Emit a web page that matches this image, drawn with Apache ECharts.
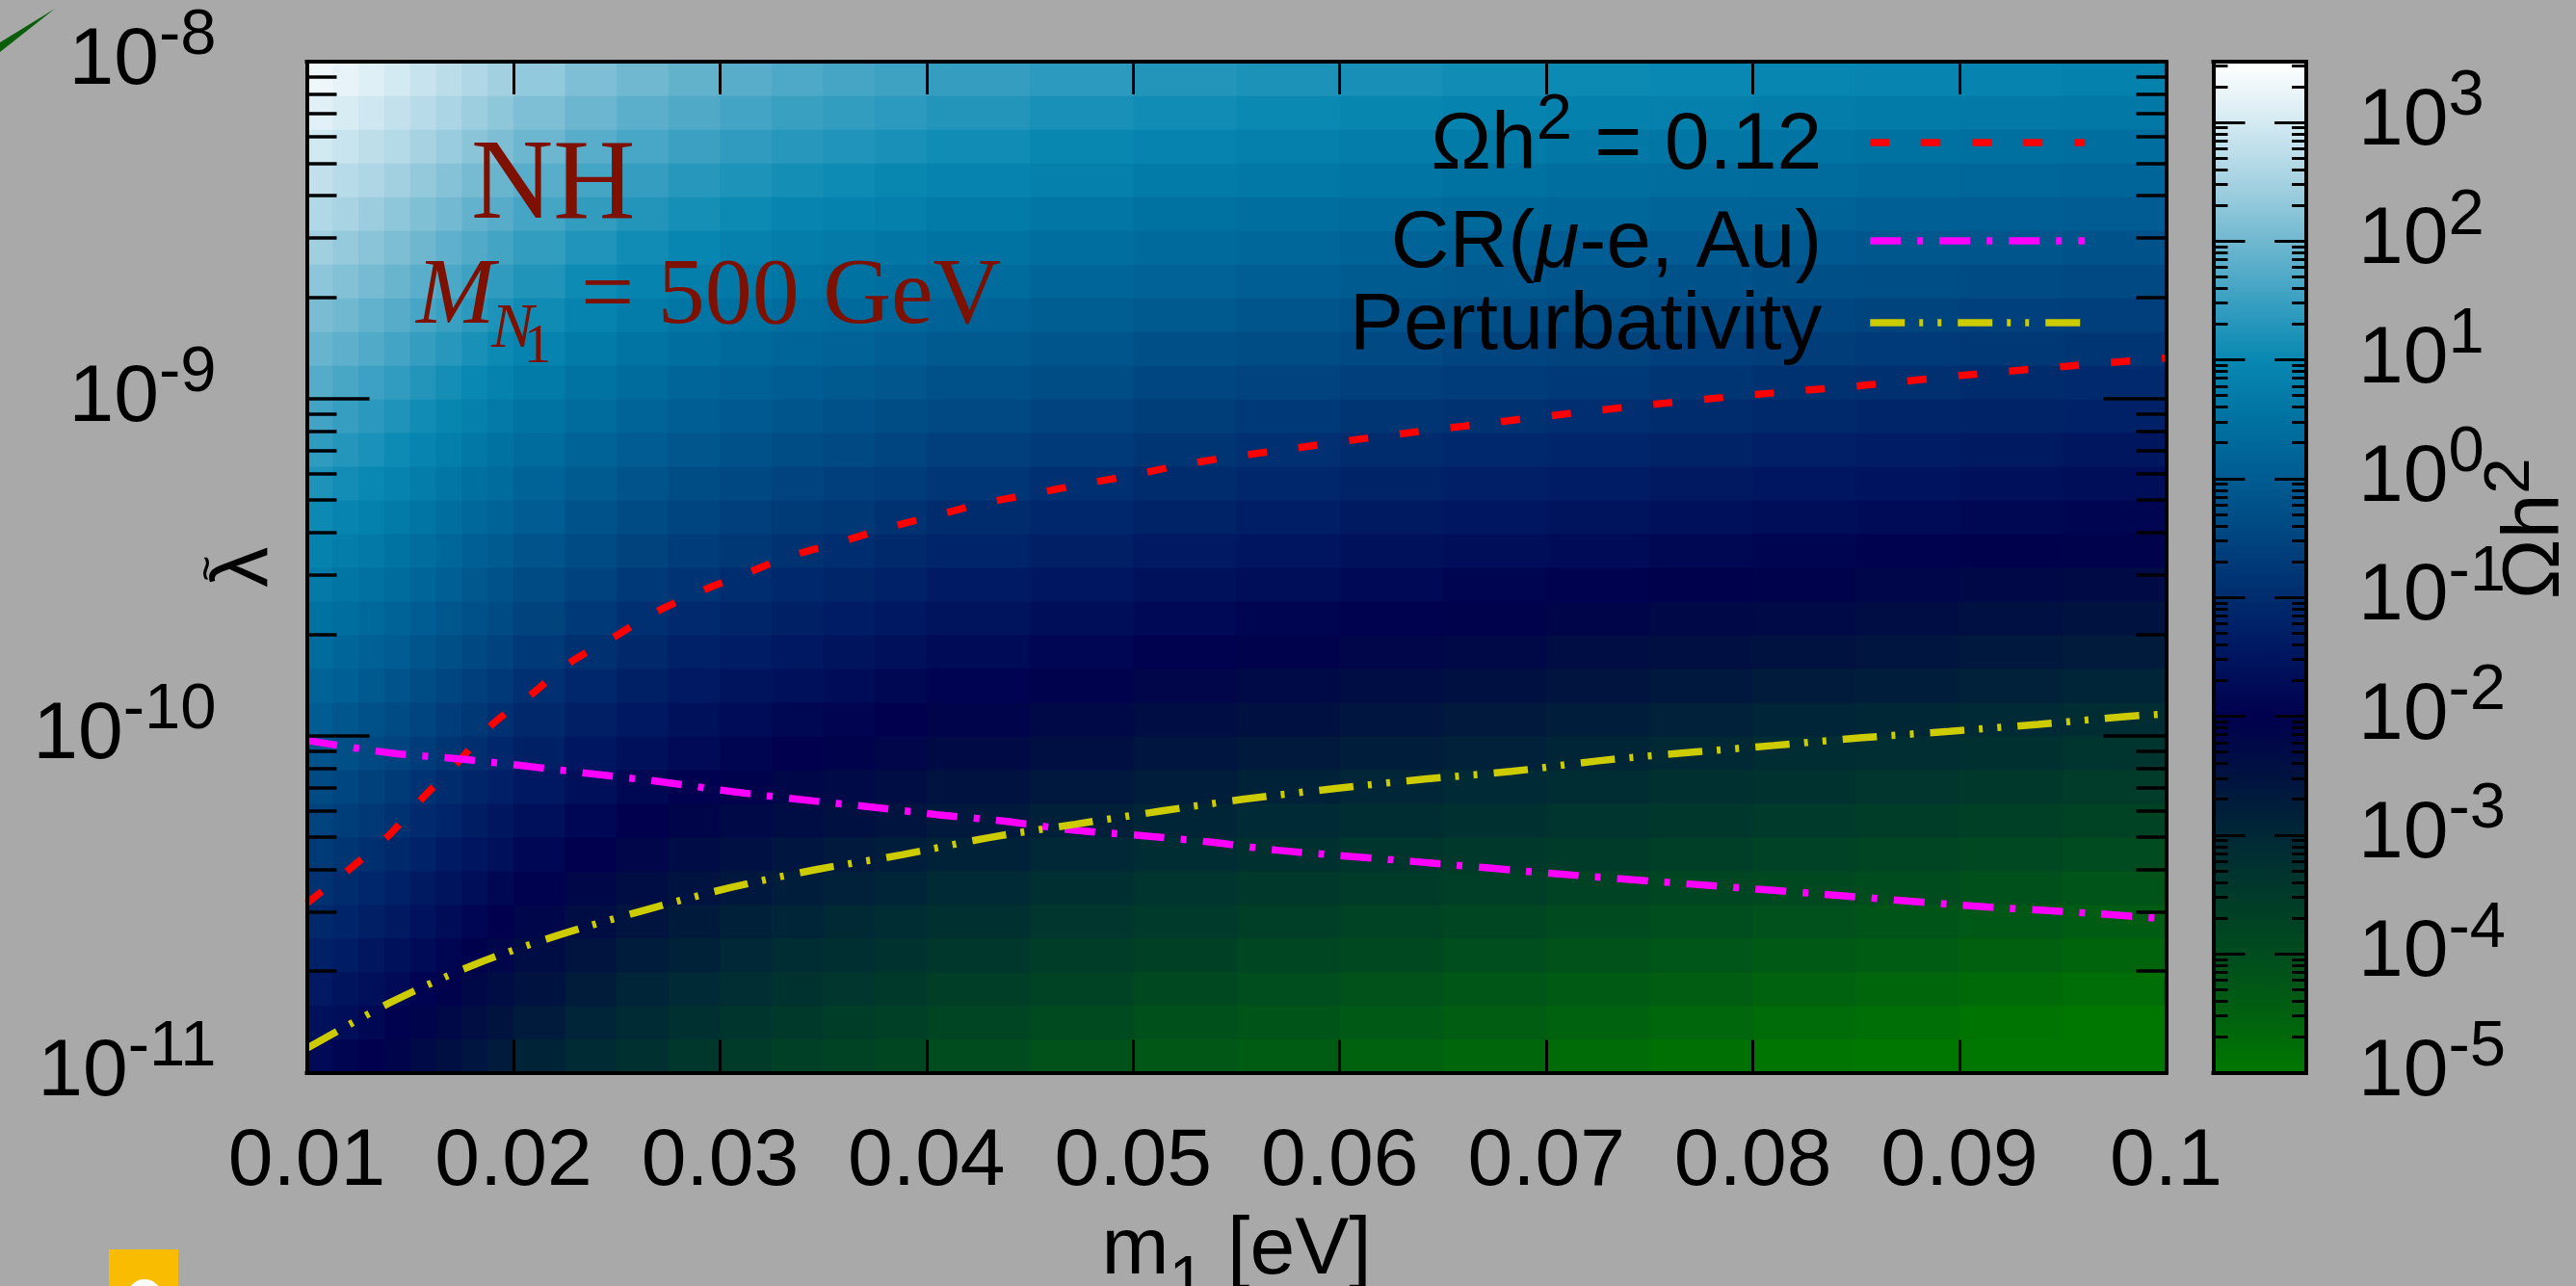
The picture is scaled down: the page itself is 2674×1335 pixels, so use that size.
<!DOCTYPE html>
<html>
<head>
<meta charset="utf-8">
<title>Omega h^2 — NH, M_N1 = 500 GeV</title>
<script src="https://cdn.jsdelivr.net/npm/echarts@6.0.0/dist/echarts.min.js"></script>
<style>
html,body{margin:0;padding:0;background:#a9a9a9;overflow:hidden;}
#chart{width:2674px;height:1335px;}
</style>
</head>
<body>
<div id="chart"></div>
<script>
// ================= data =================
// map cells: column edges in m1 [eV], row edges in log10(lambda~)
const colEdges = [0.01,0.01125,0.0125,0.01375,0.015,0.01625,0.0175,0.01875,0.02,0.0225,0.025,0.0275,0.03,0.0325,0.035,0.0375,0.04,0.045,0.05,0.055,0.06,0.065,0.07,0.075,0.08,0.085,0.09,0.095,0.1];
const rowEdges = [-11,-10.9,-10.8,-10.7,-10.6,-10.5,-10.4,-10.3,-10.2,-10.1,-10,-9.9,-9.8,-9.7,-9.6,-9.5,-9.4,-9.3,-9.2,-9.1,-9,-8.9,-8.8,-8.7,-8.6,-8.5,-8.4,-8.3,-8.2,-8.1,-8];
// log10(Omega h^2) per cell: one array per column, bottom row first
const omegaCols = [
[-1.76,-1.59,-1.41,-1.24,-1.06,-0.89,-0.71,-0.54,-0.36,-0.19,-0.01,0.16,0.34,0.51,0.69,0.87,1.04,1.22,1.39,1.57,1.74,1.92,2.09,2.27,2.44,2.62,2.79,2.97,3.14,3.32],
[-1.87,-1.70,-1.52,-1.35,-1.17,-1.00,-0.82,-0.64,-0.47,-0.29,-0.12,0.06,0.23,0.41,0.59,0.76,0.94,1.11,1.29,1.46,1.64,1.82,1.99,2.17,2.34,2.52,2.69,2.87,3.05,3.22],
[-1.99,-1.82,-1.64,-1.46,-1.29,-1.11,-0.94,-0.76,-0.58,-0.41,-0.23,-0.05,0.12,0.30,0.47,0.65,0.83,1.00,1.18,1.35,1.53,1.71,1.88,2.06,2.24,2.41,2.59,2.76,2.94,3.12],
[-2.12,-1.95,-1.77,-1.59,-1.42,-1.24,-1.06,-0.89,-0.71,-0.53,-0.36,-0.18,0.00,0.17,0.35,0.53,0.70,0.88,1.06,1.23,1.41,1.59,1.76,1.94,2.12,2.29,2.47,2.65,2.82,3.00],
[-2.28,-2.10,-1.92,-1.75,-1.57,-1.39,-1.21,-1.04,-0.86,-0.68,-0.51,-0.33,-0.15,0.03,0.20,0.38,0.56,0.74,0.91,1.09,1.27,1.44,1.62,1.80,1.98,2.15,2.33,2.51,2.68,2.86],
[-2.42,-2.24,-2.07,-1.89,-1.71,-1.53,-1.36,-1.18,-1.00,-0.82,-0.65,-0.47,-0.29,-0.11,0.07,0.24,0.42,0.60,0.78,0.95,1.13,1.31,1.49,1.67,1.84,2.02,2.20,2.38,2.55,2.73],
[-2.57,-2.39,-2.21,-2.03,-1.86,-1.68,-1.50,-1.32,-1.14,-0.97,-0.79,-0.61,-0.43,-0.25,-0.08,0.10,0.28,0.46,0.64,0.81,0.99,1.17,1.35,1.53,1.71,1.88,2.06,2.24,2.42,2.60],
[-2.71,-2.53,-2.35,-2.17,-1.99,-1.81,-1.63,-1.46,-1.28,-1.10,-0.92,-0.74,-0.56,-0.38,-0.21,-0.03,0.15,0.33,0.51,0.69,0.87,1.04,1.22,1.40,1.58,1.76,1.94,2.12,2.29,2.47],
[-2.88,-2.70,-2.52,-2.34,-2.16,-1.98,-1.80,-1.62,-1.44,-1.26,-1.09,-0.91,-0.73,-0.55,-0.37,-0.19,-0.01,0.17,0.35,0.53,0.71,0.89,1.07,1.25,1.43,1.60,1.78,1.96,2.14,2.32],
[-3.09,-2.91,-2.73,-2.55,-2.37,-2.19,-2.01,-1.83,-1.65,-1.47,-1.29,-1.11,-0.93,-0.75,-0.56,-0.38,-0.20,-0.02,0.16,0.34,0.52,0.70,0.88,1.06,1.24,1.42,1.60,1.78,1.96,2.14],
[-3.26,-3.08,-2.90,-2.72,-2.54,-2.36,-2.18,-1.99,-1.81,-1.63,-1.45,-1.27,-1.09,-0.91,-0.73,-0.55,-0.36,-0.18,0.00,0.18,0.36,0.54,0.72,0.90,1.09,1.27,1.45,1.63,1.81,1.99],
[-3.41,-3.23,-3.05,-2.87,-2.69,-2.50,-2.32,-2.14,-1.96,-1.77,-1.59,-1.41,-1.23,-1.05,-0.86,-0.68,-0.50,-0.32,-0.13,0.05,0.23,0.41,0.59,0.78,0.96,1.14,1.32,1.51,1.69,1.87],
[-3.54,-3.36,-3.18,-2.99,-2.81,-2.63,-2.44,-2.26,-2.08,-1.89,-1.71,-1.53,-1.34,-1.16,-0.98,-0.79,-0.61,-0.43,-0.25,-0.06,0.12,0.30,0.49,0.67,0.85,1.04,1.22,1.40,1.59,1.77],
[-3.66,-3.48,-3.29,-3.11,-2.92,-2.74,-2.56,-2.37,-2.19,-2.00,-1.82,-1.63,-1.45,-1.27,-1.08,-0.90,-0.71,-0.53,-0.35,-0.16,0.02,0.21,0.39,0.58,0.76,0.94,1.13,1.31,1.50,1.68],
[-3.76,-3.57,-3.39,-3.20,-3.02,-2.83,-2.65,-2.46,-2.28,-2.09,-1.91,-1.72,-1.53,-1.35,-1.16,-0.98,-0.79,-0.61,-0.42,-0.24,-0.05,0.13,0.32,0.50,0.69,0.87,1.06,1.24,1.43,1.61],
[-3.86,-3.67,-3.48,-3.30,-3.11,-2.92,-2.74,-2.55,-2.37,-2.18,-1.99,-1.81,-1.62,-1.44,-1.25,-1.06,-0.88,-0.69,-0.51,-0.32,-0.13,0.05,0.24,0.43,0.61,0.80,0.98,1.17,1.36,1.54],
[-3.99,-3.80,-3.61,-3.42,-3.24,-3.05,-2.86,-2.67,-2.49,-2.30,-2.11,-1.92,-1.74,-1.55,-1.36,-1.17,-0.99,-0.80,-0.61,-0.42,-0.24,-0.05,0.14,0.33,0.52,0.70,0.89,1.08,1.27,1.45],
[-4.14,-3.95,-3.76,-3.57,-3.38,-3.19,-3.00,-2.81,-2.62,-2.43,-2.24,-2.05,-1.86,-1.67,-1.48,-1.29,-1.10,-0.91,-0.72,-0.53,-0.34,-0.15,0.04,0.22,0.41,0.60,0.79,0.98,1.17,1.36],
[-4.28,-4.09,-3.90,-3.70,-3.51,-3.32,-3.13,-2.94,-2.75,-2.56,-2.36,-2.17,-1.98,-1.79,-1.60,-1.41,-1.22,-1.02,-0.83,-0.64,-0.45,-0.26,-0.07,0.13,0.32,0.51,0.70,0.89,1.08,1.27],
[-4.40,-4.21,-4.02,-3.82,-3.63,-3.44,-3.24,-3.05,-2.86,-2.66,-2.47,-2.27,-2.08,-1.89,-1.69,-1.50,-1.31,-1.11,-0.92,-0.73,-0.53,-0.34,-0.15,0.05,0.24,0.43,0.63,0.82,1.02,1.21],
[-4.52,-4.32,-4.13,-3.93,-3.74,-3.54,-3.35,-3.15,-2.96,-2.76,-2.57,-2.37,-2.17,-1.98,-1.78,-1.59,-1.39,-1.20,-1.00,-0.81,-0.61,-0.42,-0.22,-0.02,0.17,0.37,0.56,0.76,0.95,1.15],
[-4.63,-4.43,-4.24,-4.04,-3.84,-3.64,-3.45,-3.25,-3.05,-2.85,-2.66,-2.46,-2.26,-2.06,-1.87,-1.67,-1.47,-1.28,-1.08,-0.88,-0.68,-0.49,-0.29,-0.09,0.11,0.30,0.50,0.70,0.90,1.09],
[-4.74,-4.54,-4.34,-4.14,-3.94,-3.74,-3.54,-3.34,-3.14,-2.94,-2.74,-2.54,-2.35,-2.15,-1.95,-1.75,-1.55,-1.35,-1.15,-0.95,-0.75,-0.55,-0.35,-0.15,0.05,0.25,0.44,0.64,0.84,1.04],
[-4.84,-4.64,-4.43,-4.23,-4.03,-3.83,-3.63,-3.43,-3.23,-3.03,-2.83,-2.62,-2.42,-2.22,-2.02,-1.82,-1.62,-1.42,-1.22,-1.01,-0.81,-0.61,-0.41,-0.21,-0.01,0.19,0.39,0.60,0.80,1.00],
[-4.93,-4.73,-4.53,-4.32,-4.12,-3.92,-3.71,-3.51,-3.31,-3.10,-2.90,-2.70,-2.49,-2.29,-2.09,-1.88,-1.68,-1.48,-1.28,-1.07,-0.87,-0.67,-0.46,-0.26,-0.06,0.15,0.35,0.55,0.76,0.96],
[-5.00,-4.82,-4.62,-4.41,-4.21,-4.00,-3.80,-3.59,-3.39,-3.18,-2.98,-2.77,-2.57,-2.36,-2.16,-1.95,-1.75,-1.54,-1.34,-1.13,-0.93,-0.72,-0.52,-0.31,-0.11,0.10,0.30,0.51,0.71,0.92],
[-5.00,-4.92,-4.71,-4.51,-4.30,-4.09,-3.89,-3.68,-3.47,-3.26,-3.06,-2.85,-2.64,-2.44,-2.23,-2.02,-1.81,-1.61,-1.40,-1.19,-0.99,-0.78,-0.57,-0.36,-0.16,0.05,0.26,0.46,0.67,0.88],
[-5.00,-5.00,-4.80,-4.59,-4.39,-4.18,-3.97,-3.76,-3.55,-3.34,-3.13,-2.92,-2.71,-2.50,-2.30,-2.09,-1.88,-1.67,-1.46,-1.25,-1.04,-0.83,-0.62,-0.41,-0.21,0.00,0.21,0.42,0.63,0.84]
];
// Omega h^2 = 0.12 contour
const relicX = [0.0100,0.0122,0.0140,0.0156,0.0173,0.0189,0.0209,0.0227,0.0248,0.0268,0.0290,0.0312,0.0333,0.0358,0.0383,0.0405,0.0428,0.0451,0.0475,0.0498,0.0521,0.0546,0.0570,0.0617,0.0666,0.0713,0.0761,0.0810,0.0857,0.0906,0.0953,0.1000];
const relicLambda = [3.18e-11,4.08e-11,5.08e-11,6.52e-11,8.32e-11,1.07e-10,1.33e-10,1.64e-10,1.95e-10,2.31e-10,2.67e-10,3.02e-10,3.39e-10,3.75e-10,4.17e-10,4.51e-10,4.90e-10,5.21e-10,5.57e-10,5.90e-10,6.31e-10,6.70e-10,7.01e-10,7.69e-10,8.37e-10,9.06e-10,9.75e-10,1.04e-9,1.10e-9,1.18e-9,1.25e-9,1.32e-9];
// CR(mu-e, Au) bound
const crX = [0.0100,0.0140,0.0174,0.0207,0.0239,0.0272,0.0306,0.0338,0.0372,0.0405,0.0438,0.0470,0.0504,0.0539,0.0570,0.0636,0.0703,0.0769,0.0835,0.0901,0.0967,0.1000];
const crLambda = [9.68e-11,8.89e-11,8.53e-11,8.11e-11,7.69e-11,7.29e-11,6.82e-11,6.47e-11,6.15e-11,5.83e-11,5.57e-11,5.25e-11,5.05e-11,4.82e-11,4.57e-11,4.23e-11,3.90e-11,3.63e-11,3.38e-11,3.14e-11,2.96e-11,2.86e-11];
// Perturbativity bound
const pertX = [0.0100,0.0140,0.0181,0.0222,0.0264,0.0305,0.0347,0.0388,0.0430,0.0472,0.0514,0.0553,0.0598,0.0641,0.0683,0.0726,0.0767,0.0810,0.0853,0.0895,0.0938,0.0981,0.1000];
const pertLambda = [1.18e-11,1.61e-11,2.09e-11,2.56e-11,3.04e-11,3.54e-11,4.01e-11,4.43e-11,4.98e-11,5.46e-11,5.98e-11,6.47e-11,6.97e-11,7.43e-11,7.83e-11,8.43e-11,8.89e-11,9.35e-11,9.86e-11,1.03e-10,1.08e-10,1.14e-10,1.16e-10];
// ticks
const xTickValues = [0.01,0.02,0.03,0.04,0.05,0.06,0.07,0.08,0.09,0.1];
const xTickLabels = ['0.01','0.02','0.03','0.04','0.05','0.06','0.07','0.08','0.09','0.1'];
const yTickExps = [-11,-10,-9,-8];
const cbTickExps = [-5,-4,-3,-2,-1,0,1,2,3];
const cbMinExp = -5, cbMaxExp = 3.51;
const seriesNames = ['relic','cr','pert'];
const legendLabels = {
  relic: '{t|Ωh}{s|2}{t| = 0.12}',
  cr: '{t|CR(}{i|μ}{t|-e, Au)}',
  pert: '{t|Perturbativity}'
};

// ================= layout / style =================
const SANS = '"Liberation Sans", Arial, Helvetica, sans-serif';
const SERIF = '"Liberation Serif", "Times New Roman", Times, serif';
const PL = 318.5, PT = 64, PW = 1930, PH = 1049.5;
const CBL = 2297.5, CBW = 96.5;
const DARKRED = '#7e1000';
const LW = 7.5;
// palette: one colour every half decade from 1e-5 up to 10^3.5
const cbColors = ['#007800','#006010','#004c1e','#003a2a','#002836','#001240','#00004e','#00155f','#002c6e',
                  '#00457f','#005c92','#0072a2','#0888b2','#3aa0c2','#70b8d0','#a6d2e2','#d4eaf2','#ffffff'];
const paletteMax = cbMinExp + 0.5 * (cbColors.length - 1);   // 3.5
const colorbarStops = cbColors.map((c, i) => ({offset: (0.5 * i) / (cbMaxExp - cbMinExp), color: c}));

const richPow = {
  b: {fontFamily: SANS, fontSize: 84, lineHeight: 84, color: '#000'},
  s: {fontFamily: SANS, fontSize: 67, lineHeight: 84, padding: [0,0,52,0], color: '#000'}
};
const powLabel = v => '{b|10}{s|' + Math.round(v) + '}';

function minorTicks(exps, maxExp) {
  const out = [];
  for (let d = 0; d < exps.length; d++) {
    for (let k = 2; k <= 9; k++) {
      const v = exps[d] + Math.log10(k);
      if (v < maxExp) out.push(v);
    }
  }
  return out;
}
const yMinor = minorTicks(yTickExps.slice(0, -1), -8);
const cbMinor = minorTicks(cbTickExps, cbMaxExp);

const cellData = [];
for (let c = 0; c < omegaCols.length; c++) {
  for (let r = 0; r < omegaCols[c].length; r++) {
    cellData.push([colEdges[c], colEdges[c + 1], rowEdges[r], rowEdges[r + 1], omegaCols[c][r]]);
  }
}
const toPairs = (xs, ls) => xs.map((x, i) => [x, Math.log10(ls[i])]);

const frame = {show: true, onZero: false, lineStyle: {color: '#000', width: 4, cap: 'square'}};
function valAxis(extra) {
  return Object.assign({
    type: 'value', z: 5, splitLine: {show: false}, axisLine: {show: false, onZero: false},
    axisLabel: {show: false}, axisTick: {show: false}, nameMoveOverlap: false
  }, extra);
}

const option = {
  backgroundColor: '#a9a9a9',
  animation: false,
  textStyle: {fontFamily: SANS},
  grid: [
    {left: PL, top: PT, width: PW, height: PH, containLabel: false, outerBoundsMode: 'none'},
    {left: CBL, top: PT, width: CBW, height: PH, containLabel: false, outerBoundsMode: 'none'}
  ],
  xAxis: [
    valAxis({gridIndex: 0, position: 'bottom', min: 0.01, max: 0.1, axisLine: frame,
      axisTick: {show: true, inside: true, length: 34, customValues: xTickValues, lineStyle: {color: '#000', width: 3}},
      axisLabel: {show: true, customValues: xTickValues, margin: 51, fontSize: 84, fontFamily: SANS, color: '#000',
        formatter: v => { const k = xTickValues.findIndex(t => Math.abs(t - v) < 1e-9); return k >= 0 ? xTickLabels[k] : ''; }},
      name: '{b|m}{sub|1}{b| [eV]}', nameLocation: 'middle', nameGap: 143,
      nameTextStyle: {rich: {
        b: {fontFamily: SANS, fontSize: 84, lineHeight: 84, color: '#000'},
        sub: {fontFamily: SANS, fontSize: 67, lineHeight: 84, padding: [66,0,0,0], color: '#000'}
      }}}),
    valAxis({gridIndex: 0, position: 'top', min: 0.01, max: 0.1, axisLine: frame,
      axisTick: {show: true, inside: true, length: 34, customValues: xTickValues, lineStyle: {color: '#000', width: 3}}}),
    // colour-bar box: bottom and top edges
    valAxis({gridIndex: 1, position: 'bottom', min: 1, max: 2, axisLine: frame}),
    valAxis({gridIndex: 1, position: 'top', min: 1, max: 2, axisLine: frame})
  ],
  yAxis: [
    valAxis({gridIndex: 0, position: 'left', min: -11, max: -8, axisLine: frame,
      axisTick: {show: true, inside: true, length: 65, customValues: yTickExps, lineStyle: {color: '#000', width: 3.5}},
      axisLabel: {show: true, customValues: yTickExps, margin: 94, formatter: powLabel, rich: richPow},
      name: 'λ', nameLocation: 'middle', nameRotate: 90, nameGap: 22,
      nameTextStyle: {fontFamily: SANS, fontSize: 84, color: '#000'}}),
    valAxis({gridIndex: 0, position: 'right', min: -11, max: -8, axisLine: frame,
      axisTick: {show: true, inside: true, length: 65, customValues: yTickExps, lineStyle: {color: '#000', width: 3.5}}}),
    valAxis({gridIndex: 0, position: 'left', min: -11, max: -8,
      axisTick: {show: true, inside: true, length: 31, customValues: yMinor, lineStyle: {color: '#000', width: 3.5}}}),
    valAxis({gridIndex: 0, position: 'right', min: -11, max: -8,
      axisTick: {show: true, inside: true, length: 31, customValues: yMinor, lineStyle: {color: '#000', width: 3.5}}}),
    valAxis({gridIndex: 1, position: 'left', min: cbMinExp, max: cbMaxExp, axisLine: frame,
      axisTick: {show: true, inside: true, length: 33, customValues: cbTickExps, lineStyle: {color: '#000', width: 3}}}),
    valAxis({gridIndex: 1, position: 'right', min: cbMinExp, max: cbMaxExp, axisLine: frame,
      axisTick: {show: true, inside: true, length: 33, customValues: cbTickExps, lineStyle: {color: '#000', width: 3}},
      axisLabel: {show: true, customValues: cbTickExps, margin: 54, formatter: powLabel, rich: richPow},
      name: '{b|Ωh}{s|2}', nameLocation: 'middle', nameRotate: 90, nameGap: 197,
      nameTextStyle: {padding: [0,0,0,80], rich: richPow}}),
    valAxis({gridIndex: 1, position: 'left', min: cbMinExp, max: cbMaxExp,
      axisTick: {show: true, inside: true, length: 15, customValues: cbMinor, lineStyle: {color: '#000', width: 3}}}),
    valAxis({gridIndex: 1, position: 'right', min: cbMinExp, max: cbMaxExp,
      axisTick: {show: true, inside: true, length: 15, customValues: cbMinor, lineStyle: {color: '#000', width: 3}}})
  ],
  visualMap: {
    type: 'continuous', show: false, seriesIndex: 0, dimension: 4, min: cbMinExp, max: paletteMax,
    inRange: {color: cbColors}
  },
  legend: {
    data: seriesNames, orient: 'vertical', align: 'right', right: 506, top: 92.5,
    itemWidth: 223, itemHeight: 14, itemGap: -8, padding: 0, selectedMode: false,
    itemStyle: {opacity: 0}, lineStyle: {width: LW},
    formatter: n => legendLabels[n],
    textStyle: {fontFamily: SANS, fontSize: 84, color: '#000', lineHeight: 85, padding: [8,45,0,0],
      rich: {
        t: {fontFamily: SANS, fontSize: 84, lineHeight: 85, color: '#000'},
        i: {fontFamily: SANS, fontSize: 84, lineHeight: 85, fontStyle: 'italic', color: '#000'},
        s: {fontFamily: SANS, fontSize: 67, lineHeight: 85, padding: [0,0,52,0], color: '#000'}
      }}
  },
  series: [
    {type: 'custom', xAxisIndex: 0, yAxisIndex: 0, data: cellData, z: 1, silent: true, clip: true,
     encode: {x: [0, 1], y: [2, 3]}, progressive: 0,
     renderItem: function (params, api) {
       const a = api.coord([api.value(0), api.value(3)]);
       const b = api.coord([api.value(1), api.value(2)]);
       return {type: 'rect', shape: {x: a[0], y: a[1], width: b[0] - a[0] + 0.8, height: b[1] - a[1] + 0.8},
               style: {fill: api.visual('color')}};
     }},
    {name: 'relic', type: 'line', xAxisIndex: 0, yAxisIndex: 0, data: toPairs(relicX, relicLambda),
     symbol: 'none', smooth: 0.3, z: 4, silent: true,
     lineStyle: {color: '#ff0000', width: LW, type: [20, 33], cap: 'butt'}, itemStyle: {color: '#ff0000'}},
    {name: 'cr', type: 'line', xAxisIndex: 0, yAxisIndex: 0, data: toPairs(crX, crLambda),
     symbol: 'none', smooth: 0.3, z: 4, silent: true,
     lineStyle: {color: '#ff00ff', width: LW, type: [32, 17, 6, 17], cap: 'butt'}, itemStyle: {color: '#ff00ff'}},
    {name: 'pert', type: 'line', xAxisIndex: 0, yAxisIndex: 0, data: toPairs(pertX, pertLambda),
     symbol: 'none', smooth: 0.3, z: 4, silent: true,
     lineStyle: {color: '#cccc00', width: LW, type: [36, 15, 4, 15, 4, 17], cap: 'butt'}, itemStyle: {color: '#cccc00'}}
  ],
  graphic: [
    // colour bar (same palette as the visualMap that colours the map)
    {type: 'rect', z: 1, silent: true, shape: {x: CBL, y: PT, width: CBW, height: PH},
     style: {fill: {type: 'linear', x: 0, y: 1, x2: 0, y2: 0, global: false, colorStops: colorbarStops}}},
    {type: 'text', x: 217, y: 590, rotation: Math.PI / 2, z: 20,
     style: {text: '~', font: '46px ' + SANS, fill: '#000', align: 'center', verticalAlign: 'middle'}},
    {type: 'text', x: 489, y: 195, z: 20, style: {text: 'NH', font: '118px ' + SERIF, fill: DARKRED, align: 'left', verticalAlign: 'middle'}},
    {type: 'text', x: 432, y: 309, z: 20, style: {text: 'M', font: 'italic 98px ' + SERIF, fill: DARKRED, align: 'left', verticalAlign: 'middle'}},
    {type: 'text', x: 510, y: 343, z: 20, style: {text: 'N', font: 'italic 66px ' + SERIF, fill: DARKRED, align: 'left', verticalAlign: 'middle'}},
    {type: 'text', x: 544, y: 361, z: 20, style: {text: '1', font: '56px ' + SERIF, fill: DARKRED, align: 'left', verticalAlign: 'middle'}},
    {type: 'text', x: 603, y: 309, z: 20, style: {text: '= 500 GeV', font: '98px ' + SERIF, fill: DARKRED, align: 'left', verticalAlign: 'middle'}},
    {type: 'polygon', z: 20, shape: {points: [[0,44],[57,9],[0,54]]}, style: {fill: '#0a5e0a'}},
    {type: 'rect', z: 20, shape: {x: 113, y: 1297, width: 72, height: 40}, style: {fill: '#f9bc00'}},
    {type: 'circle', z: 21, shape: {cx: 150, cy: 1346, r: 18}, style: {fill: '#ffffff'}}
  ]
};

const chart = echarts.init(document.getElementById('chart'), null, {renderer: 'canvas', width: 2674, height: 1335});
chart.setOption(option);
</script>
</body>
</html>
